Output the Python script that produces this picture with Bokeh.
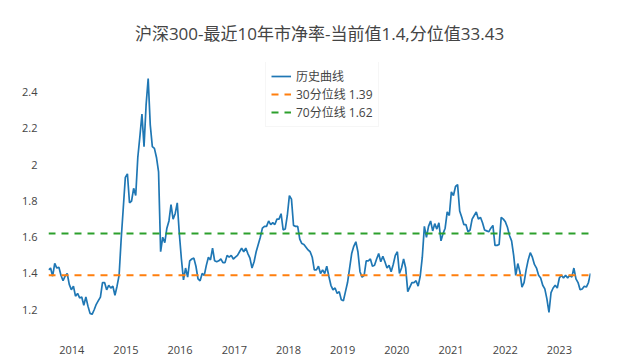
import pandas as pd
from bokeh.plotting import figure
from bokeh.models import (ColumnDataSource, Legend, LegendItem, FixedTicker,
                          DatetimeTickFormatter, NumeralTickFormatter, Range1d)
from bokeh.embed import file_html
from bokeh.resources import INLINE

title_text = "沪深300-最近10年市净率-当前值1.4,分位值33.43"
series_name = "历史曲线"
p30_label, p30_value = "30分位线", 1.39
p70_label, p70_value = "70分位线", 1.62
start_date = "2013-07-28"
step = "14D"
tick_years = [2014, 2015, 2016, 2017, 2018, 2019, 2020, 2021, 2022, 2023]

# P/B values, one every two weeks
pb = [
    1.42, 1.43, 1.385, 1.456, 1.43, 1.435, 1.39, 1.36, 1.385, 1.40,
    1.34, 1.31, 1.33, 1.275, 1.29, 1.265, 1.27, 1.225, 1.27, 1.22,
    1.18, 1.175, 1.20, 1.23, 1.25, 1.27, 1.35, 1.35, 1.31, 1.335,
    1.32, 1.33, 1.28, 1.33, 1.39, 1.59, 1.76, 1.93, 1.95, 1.79,
    1.80, 1.87, 1.83, 2.04, 2.155, 2.28, 2.10, 2.33, 2.475, 2.22,
    2.10, 2.09, 2.04, 1.96, 1.52, 1.60, 1.57, 1.65, 1.69, 1.78,
    1.70, 1.73, 1.79, 1.62, 1.48, 1.365, 1.43, 1.38, 1.47, 1.48,
    1.485, 1.44, 1.37, 1.36, 1.40, 1.39, 1.445, 1.49, 1.475, 1.54,
    1.47, 1.465, 1.47, 1.48, 1.46, 1.46, 1.50, 1.49, 1.50, 1.48,
    1.49, 1.50, 1.52, 1.54, 1.52, 1.54, 1.51, 1.485, 1.43, 1.465,
    1.52, 1.56, 1.60, 1.65, 1.66, 1.66, 1.69, 1.67, 1.68, 1.67,
    1.70, 1.70, 1.73, 1.64, 1.645, 1.72, 1.83, 1.81, 1.665, 1.66,
    1.66, 1.59, 1.565, 1.56, 1.545, 1.53, 1.52, 1.49, 1.42, 1.42,
    1.44, 1.40, 1.42, 1.40, 1.44, 1.385, 1.335, 1.31, 1.32, 1.29,
    1.30, 1.255, 1.25, 1.30, 1.35, 1.43, 1.51, 1.55, 1.575, 1.52,
    1.41, 1.38, 1.39, 1.47, 1.47, 1.48, 1.44, 1.445, 1.48, 1.51,
    1.465, 1.495, 1.465, 1.43, 1.445, 1.41, 1.45, 1.50, 1.52, 1.40,
    1.43, 1.48, 1.43, 1.30, 1.325, 1.35, 1.35, 1.36, 1.33, 1.385,
    1.49, 1.66, 1.60, 1.66, 1.69, 1.635, 1.675, 1.645, 1.68, 1.58,
    1.62, 1.65, 1.74, 1.72, 1.85, 1.83, 1.88, 1.89, 1.745, 1.71,
    1.67, 1.67, 1.63, 1.64, 1.70, 1.72, 1.74, 1.70, 1.71, 1.68,
    1.64, 1.635, 1.63, 1.65, 1.665, 1.555, 1.555, 1.56, 1.71, 1.70,
    1.685, 1.655, 1.61, 1.58, 1.50, 1.39, 1.455, 1.41, 1.325, 1.35,
    1.42, 1.475, 1.515, 1.49, 1.45, 1.43, 1.39, 1.375, 1.335, 1.315,
    1.26, 1.185, 1.295, 1.32, 1.335, 1.32, 1.375, 1.39, 1.375, 1.39,
    1.375, 1.39, 1.38, 1.43, 1.37, 1.35, 1.31, 1.315, 1.33, 1.325,
    1.35, 1.40,
]
y_ticks = [1.2, 1.4, 1.6, 1.8, 2.0, 2.2, 2.4]

dates = pd.date_range(start_date, periods=len(pb), freq=step)
src = ColumnDataSource(dict(date=dates, pb=pb))
x_ticks = [pd.Timestamp(f"{y}-01-01").value / 1e6 for y in tick_years]

FONT = "Open Sans, Noto Sans CJK SC, sans-serif"

p = figure(width=640, height=356, x_axis_type="datetime",
           output_backend="svg", toolbar_location=None,
           x_range=Range1d(dates[0], dates[-1]),
           y_range=Range1d(1.069, 2.564),
           min_border_left=48, min_border_right=50,
           min_border_top=62, min_border_bottom=20)
p.outline_line_color = None
p.background_fill_color = "white"
p.border_fill_color = "white"
p.xgrid.visible = False
p.ygrid.visible = False

p.title.text = title_text
p.title.align = "center"
p.title.vertical_align = "top"
p.title.text_font = FONT
p.title.text_font_size = "17px"
p.title.text_font_style = "normal"
p.title.text_color = "#444444"
p.title.standoff = 32

r_main = p.line("date", "pb", source=src, line_color="#1f77b4", line_width=1.7)
r30 = p.line([dates[0], dates[-1]], [p30_value, p30_value], line_color="#ff7f0e",
             line_width=2, line_dash="7 6")
r70 = p.line([dates[0], dates[-1]], [p70_value, p70_value], line_color="#2ca02c",
             line_width=2, line_dash="7 6")

for ax in (p.xaxis[0], p.yaxis[0]):
    ax.axis_line_color = None
    ax.major_tick_line_color = None
    ax.minor_tick_line_color = None
    ax.major_label_text_font = FONT
    ax.major_label_text_font_size = "11px"
    ax.major_label_text_color = "#444444"

p.xaxis[0].ticker = FixedTicker(ticks=x_ticks)
p.xaxis[0].formatter = DatetimeTickFormatter(years="%Y", months="%Y", days="%Y")
p.xaxis[0].major_label_standoff = 6
p.yaxis[0].ticker = FixedTicker(ticks=y_ticks)
p.yaxis[0].formatter = NumeralTickFormatter(format="0.[0]")
p.yaxis[0].major_label_standoff = 5

legend = Legend(items=[
    LegendItem(label=series_name, renderers=[r_main]),
    LegendItem(label=f"{p30_label} {p30_value}", renderers=[r30]),
    LegendItem(label=f"{p70_label} {p70_value}", renderers=[r70]),
], location=(217, 206))
legend.label_text_font = FONT
legend.label_text_font_size = "12px"
legend.label_text_color = "#444444"
legend.glyph_width = 20
legend.glyph_height = 14
legend.label_height = 14
legend.label_standoff = 5
legend.spacing = 0
legend.padding = 5
legend.margin = 0
legend.border_line_color = "#eeeeee"
legend.background_fill_color = "white"
legend.background_fill_alpha = 1
p.add_layout(legend, "center")

open("out.html", "w").write(file_html(p, INLINE))
